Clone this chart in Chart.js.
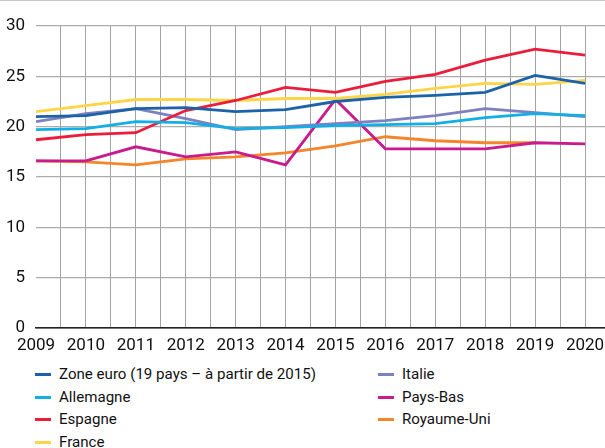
<!DOCTYPE html>
<html>
<head>
<meta charset="utf-8">
<script src="https://cdn.jsdelivr.net/npm/chart.js@4"></script>
<style>
  body { margin: 0; background: #fff; width: 605px; height: 448px; overflow: hidden; position: relative; font-family: Roboto, sans-serif; }
  #topline { position: absolute; left: 0; top: 0; width: 605px; height: 1px; background: #c8c8c8; z-index: 2; }
  #wrap { position: relative; width: 605px; height: 362px; }
  #legend { position: relative; height: 86px; }
  .item { position: absolute; font-size: 15.1px; color: #111; line-height: 22px; white-space: nowrap; }
  .item span.mark { position: absolute; left: 0; top: 10px; width: 16px; height: 3px; }
  .item span.txt { position: absolute; left: 24px; top: 0; }
</style>
</head>
<body>
<div id="topline"></div>
<div id="wrap"><canvas id="chart"></canvas></div>
<div id="legend"></div>
<script>
const years = [2009, 2010, 2011, 2012, 2013, 2014, 2015, 2016, 2017, 2018, 2019, 2020];
const yTicks = [0, 5, 10, 15, 20, 25, 30];

const zoneEuro   = [21.0, 21.1, 21.8, 21.9, 21.5, 21.7, 22.5, 22.9, 23.1, 23.4, 25.1, 24.3];
const allemagne  = [19.7, 19.8, 20.5, 20.4, 19.8, 19.9, 20.1, 20.2, 20.3, 20.9, 21.3, 21.1];
const espagne    = [18.7, 19.2, 19.4, 21.6, 22.6, 23.9, 23.4, 24.5, 25.2, 26.6, 27.7, 27.1];
const france     = [21.5, 22.1, 22.7, 22.7, 22.6, 22.8, 22.8, 23.2, 23.8, 24.3, 24.2, 24.6];
const italie     = [20.5, 21.3, 21.8, 20.8, 19.7, 20.0, 20.3, 20.6, 21.1, 21.8, 21.4, 21.0];
const paysBas    = [16.6, 16.6, 18.0, 17.0, 17.5, 16.2, 22.7, 17.8, 17.8, 17.8, 18.4, 18.3];
const royaumeUni = [16.6, 16.5, 16.2, 16.8, 17.0, 17.4, 18.1, 19.0, 18.6, 18.4, 18.4, null];

const series = [
  { label: 'Zone euro (19 pays – à partir de 2015)', data: zoneEuro, color: '#1c62a8' },
  { label: 'Allemagne', data: allemagne, color: '#12afe6' },
  { label: 'Espagne', data: espagne, color: '#ec1d3b' },
  { label: 'France', data: france, color: '#fed546' },
  { label: 'Italie', data: italie, color: '#7e80bf' },
  { label: 'Pays-Bas', data: paysBas, color: '#c81b8c' },
  { label: 'Royaume-Uni', data: royaumeUni, color: '#f5852a' },
];

const FONT = 'Roboto, sans-serif';

// legend: two columns, filled top to bottom
const legendEl = document.getElementById('legend');
series.forEach((s, i) => {
  const col = i < 4 ? 0 : 1;
  const row = i < 4 ? i : i - 4;
  const div = document.createElement('div');
  div.className = 'item';
  div.style.left = (col === 0 ? 35 : 378) + 'px';
  div.style.top = (row * 22.5 + 1) + 'px';
  div.innerHTML = '<span class="mark" style="background:' + s.color + '"></span><span class="txt"></span>';
  div.querySelector('.txt').textContent = s.label;
  legendEl.appendChild(div);
});

const ctx = document.getElementById('chart').getContext('2d');
new Chart(ctx, {
  type: 'line',
  data: {
    datasets: series.map((s) => ({
      label: s.label,
      data: years.map((y, i) => ({ x: y, y: s.data[i] })),
      borderColor: s.color,
      backgroundColor: s.color,
      borderWidth: 2.8,
      pointRadius: 0,
      tension: 0,
      spanGaps: false,
    })),
  },
  options: {
    responsive: true,
    maintainAspectRatio: false,
    animation: false,
    layout: { padding: { top: 26, right: 0, left: 0, bottom: 0 } },
    plugins: { legend: { display: false }, tooltip: { enabled: false } },
    scales: {
      x: {
        type: 'linear',
        min: years[0],
        max: 2020.4,
        afterFit: (axis) => { axis.height = 34; axis.paddingRight = 0; axis.paddingLeft = 0; },
        grid: {
          color: (c) => (c.tick && c.tick.value === years[0] ? 'rgba(0,0,0,0)' : '#a3a3a3'),
          lineWidth: 1,
          drawTicks: false,
        },
        border: { display: true, color: '#222', width: 1.5 },
        ticks: {
          stepSize: 0.5,
          includeBounds: false,
          autoSkip: false,
          maxRotation: 0,
          padding: 8,
          color: '#111',
          font: { family: FONT, size: 17 },
          callback: (v) => (Number.isInteger(v) ? String(v) : ''),
        },
      },
      y: {
        min: 0,
        max: 30,
        afterBuildTicks: (axis) => { axis.ticks = yTicks.map((v) => ({ value: v })); },
        afterFit: (axis) => { axis.width = 36; },
        grid: { color: (c) => (c.tick && c.tick.value === 0 ? '#222' : '#acacac'), lineWidth: 1.2, drawTicks: false },
        border: { display: false },
        ticks: {
          padding: 11,
          color: '#111',
          font: { family: FONT, size: 17 },
        },
      },
    },
  },
});
</script>
</body>
</html>
